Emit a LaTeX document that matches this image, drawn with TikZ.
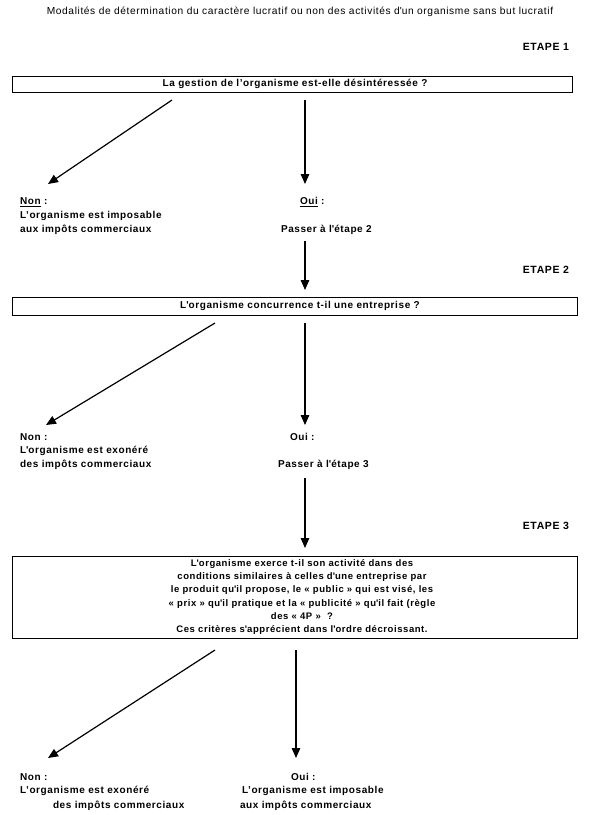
\documentclass[tikz,border=0pt]{standalone}
\usepackage{fontspec}
\setmainfont{Liberation Sans}
\newfontfamily\lblfont[LetterSpace=6]{Liberation Sans}
\newcommand\q{\textquotesingle}
\usetikzlibrary{arrows.meta}
\begin{document}
\begin{tikzpicture}[x=1pt,y=-1pt,
  every node/.style={inner sep=0pt, outer sep=0pt},
  lbl/.style={anchor=west, font=\lblfont\bfseries\fontsize{10}{12}\selectfont},
  etape/.style={anchor=east, font=\lblfont\bfseries\fontsize{10.5}{12}\selectfont},
  boxtxt/.style={font=\lblfont\bfseries\fontsize{10}{13}\selectfont, align=center},
  boxtxtc/.style={font=\lblfont\bfseries\fontsize{9.5}{13.2}\selectfont, align=center},
  box/.style={draw, line width=0.9pt},
  arr/.style={line width=1.2pt, -{Triangle[length=10pt,width=8.5pt]}},
  ttl/.style={font=\lblfont\fontsize{10.2}{12}\selectfont}]
\useasboundingbox (0,0) rectangle (597,815);
\fill[white] (0,0) rectangle (597,815);

\node[ttl] (title) at (300,12) {Modalités de détermination du caractère lucratif ou non des activités d\q un organisme sans but lucratif};

% ---------- ETAPE 1
\node[etape] (e1) at (569,47) {ETAPE 1};
\node[box, minimum width=560pt, minimum height=16pt] (b1) at (292,84) {};
\node[boxtxt] (t1) at (295,84) {La gestion de l’organisme est-elle désintéressée ?};

\coordinate (d1s) at (172,100);
\coordinate (d1e) at (48,184);
\coordinate (v1s) at (305,100);
\coordinate (v1e) at (305,184);
\draw[arr] (d1s) -- (d1e);
\draw[arr] (v1s) -- (v1e);

\node[lbl] (n1a) at (20,202) {\underline{Non} :};
\node[lbl] (n1b) at (20,216) {L’organisme est imposable};
\node[lbl] (n1c) at (20,230) {aux impôts commerciaux};
\node[lbl] (o1a) at (300,202) {\underline{Oui} :};
\node[lbl] (o1b) at (281,230) {Passer à l\q étape 2};

\coordinate (v2s) at (305,241);
\coordinate (v2e) at (305,290);
\draw[arr] (v2s) -- (v2e);

% ---------- ETAPE 2
\node[etape] (e2) at (569,270) {ETAPE 2};
\node[box, minimum width=565pt, minimum height=17.5pt] (b2) at (294.5,306.25) {};
\node[boxtxt] (t2) at (300,306) {L\q organisme concurrence t-il une entreprise ?};

\coordinate (d2s) at (215,323);
\coordinate (d2e) at (46,425);
\coordinate (v3s) at (305,323);
\coordinate (v3e) at (305,425);
\draw[arr] (d2s) -- (d2e);
\draw[arr] (v3s) -- (v3e);

\node[lbl] (n2a) at (20,437) {Non :};
\node[lbl] (n2b) at (20,451) {L\q organisme est exonéré};
\node[lbl] (n2c) at (20,465) {des impôts commerciaux};
\node[lbl] (o2a) at (290,437) {Oui :};
\node[lbl] (o2b) at (278,465) {Passer à l\q étape 3};

\coordinate (v4s) at (305,478);
\coordinate (v4e) at (305,548);
\draw[arr] (v4s) -- (v4e);

% ---------- ETAPE 3
\node[etape] (e3) at (569,526) {ETAPE 3};
\node[box, minimum width=565pt, minimum height=82pt] (b3) at (294.5,597) {};
\node[boxtxtc] (t3) at (302,597) {L\q organisme exerce t-il son activité dans des\\
conditions similaires à celles d\q une entreprise par\\
le produit qu\q il propose, le «~public~» qui est visé, les\\
«~prix~» qu\q il pratique et la «~publicité~» qu\q il fait (règle\\
des «~4P~» \ ?\\
Ces critères s\q apprécient dans l\q ordre décroissant.};

\coordinate (d3s) at (215,650);
\coordinate (d3e) at (48,758);
\coordinate (v5s) at (296,650);
\coordinate (v5e) at (296,758);
\draw[arr] (d3s) -- (d3e);
\draw[arr] (v5s) -- (v5e);

\node[lbl] (n3a) at (20,777) {Non :};
\node[lbl] (n3b) at (20,791) {L’organisme est exonéré};
\node[lbl] (n3c) at (53,806) {des impôts commerciaux};
\node[lbl] (o3a) at (291,777) {Oui :};
\node[lbl] (o3b) at (242,791) {L’organisme est imposable};
\node[lbl] (o3c) at (240,806) {aux impôts commerciaux};
\end{tikzpicture}
\end{document}
